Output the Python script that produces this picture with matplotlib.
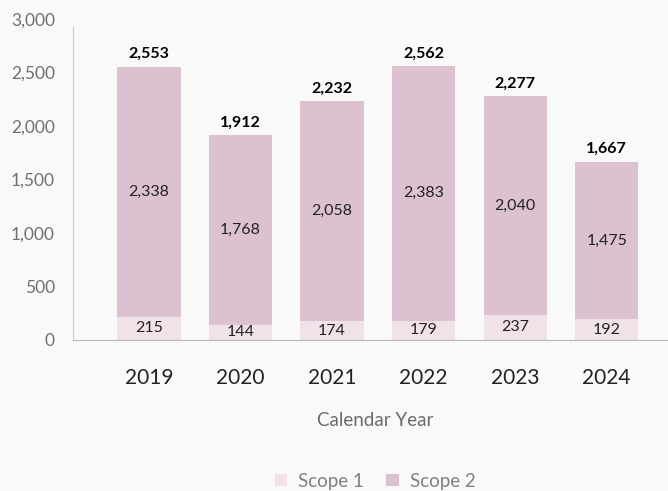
import numpy as np
import matplotlib.pyplot as plt

years = ["2019", "2020", "2021", "2022", "2023", "2024"]
scope1 = [215, 144, 174, 179, 237, 192]
scope2 = [2338, 1768, 2058, 2383, 2040, 1475]
totals = [2553, 1912, 2232, 2562, 2277, 1667]

c_scope1 = "#f1e1e9"
c_scope2 = "#dcc1d1"
bg = "#f9f9f9"

plt.rcParams['font.family'] = ['Lato', 'DejaVu Sans']

W, H = 668, 491
fig = plt.figure(figsize=(W / 100, H / 100), dpi=100, facecolor=bg)
ax = fig.add_axes([73 / W, 1 - 340 / H, 1 - 73 / W, 321 / H], facecolor=bg)

x = np.arange(len(years))
width = 0.69
b1 = ax.bar(x, scope1, width, color=c_scope1, label="Scope 1", zorder=2)
b2 = ax.bar(x, scope2, width, bottom=scope1, color=c_scope2, label="Scope 2", zorder=2)

# segment values in the middle of each piece, the total on top of the stack
for i in range(len(years)):
    ax.text(x[i], scope1[i] / 2, f"{scope1[i]:,}", ha="center", va="center",
            fontsize=11.5, color="#222222")
    ax.text(x[i], scope1[i] + scope2[i] / 2, f"{scope2[i]:,}", ha="center", va="center",
            fontsize=11.5, color="#222222")
    ax.annotate(f"{totals[i]:,}", (x[i], totals[i]), xytext=(0, 4),
                textcoords="offset points", ha="center", va="bottom",
                fontsize=11.5, fontweight="bold", color="#000000")

ax.set_xlim(-0.83, 5.67)
ax.set_ylim(0, 3000)
ax.set_yticks(np.arange(0, 3001, 500))
ax.set_yticklabels([f"{v:,}" for v in range(0, 3001, 500)])
ax.set_xticks(x)
ax.set_xticklabels(years)

ax.tick_params(axis="y", length=0, pad=13, labelsize=12.5, labelcolor="#707070")
ax.tick_params(axis="x", length=0, pad=20, labelsize=15, labelcolor="#222222")

for s in ["top", "right"]:
    ax.spines[s].set_visible(False)
ax.spines["left"].set_color("#c8c8c8")
ax.spines["left"].set_bounds(0, 2925)
ax.spines["bottom"].set_color("#b8b8b8")

fig.text(375 / W, 1 - 420 / H, "Calendar Year", ha="center", va="center",
         fontsize=13.5, color="#6b6b6b")

fig.legend(handles=[b1, b2], labels=["Scope 1", "Scope 2"], loc="center",
           bbox_to_anchor=(375 / W, 1 - 481 / H), ncol=2, frameon=False,
           fontsize=13.5, labelcolor="#808080", handlelength=0.65,
           handleheight=0.65, columnspacing=1.2, handletextpad=0.6,
           borderpad=0, borderaxespad=0)

fig.savefig("out.png", dpi=100, facecolor=bg)
